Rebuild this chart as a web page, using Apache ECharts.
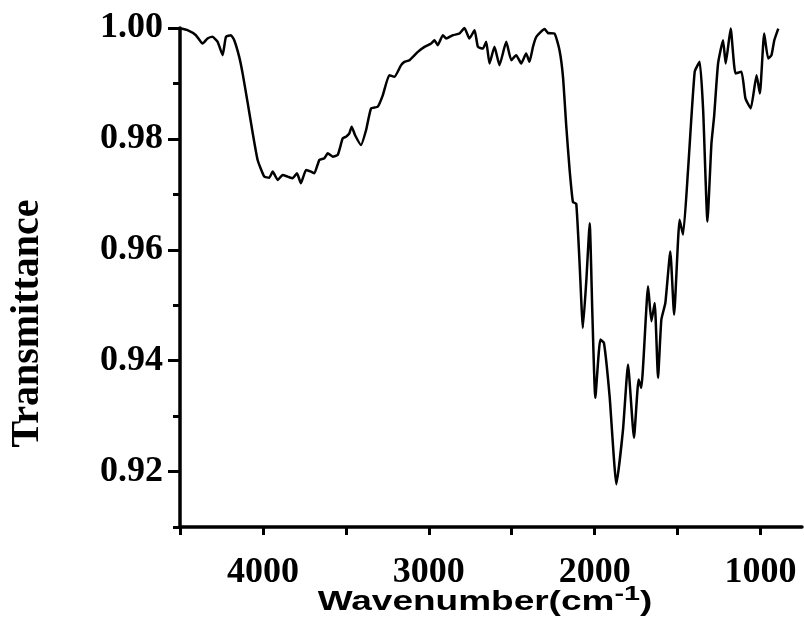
<!DOCTYPE html>
<html>
<head>
<meta charset="utf-8">
<script src="https://cdn.jsdelivr.net/npm/echarts@6/dist/echarts.min.js"></script>
<style>
  html, body { margin: 0; padding: 0; background: #fff; }
  #chart { width: 804px; height: 626px; }
</style>
</head>
<body>
<div id="chart"></div>
<script>
// FTIR spectrum: wavenumber (cm^-1) and transmittance
const wavenumber = [
  4495, 4455, 4404, 4364, 4334, 4304, 4273, 4243, 4223, 4193, 4173, 4143, 4123, 4092, 4062, 4032,
  3992, 3962, 3941, 3911, 3881, 3851, 3821, 3795, 3771, 3740, 3710, 3690, 3660, 3630, 3609, 3579,
  3549, 3519, 3499, 3479, 3465, 3445, 3409, 3378, 3348, 3308, 3277, 3238, 3207, 3167, 3147, 3117,
  3066, 3026, 2986, 2966, 2946, 2915, 2895, 2855, 2815, 2785, 2755, 2724, 2704, 2674, 2654, 2634,
  2604, 2574, 2533, 2503, 2473, 2443, 2413, 2393, 2372, 2352, 2302, 2282, 2242, 2212, 2191, 2171,
  2151, 2131, 2111, 2091, 2071, 2050, 2030, 2014, 1996, 1966, 1944, 1910, 1869, 1829, 1799, 1763,
  1735, 1719, 1678, 1658, 1638, 1618, 1598, 1574, 1544, 1521, 1488, 1467, 1437, 1397, 1367, 1346,
  1320, 1296, 1280, 1256, 1226, 1210, 1180, 1151, 1115, 1091, 1059, 1024, 1004, 978, 954, 934,
  917, 893
];
const transmittance = [
  0.9999, 0.9996, 0.9987, 0.9972, 0.9981, 0.9984, 0.9975, 0.9951, 0.9984, 0.9987, 0.9978, 0.9948, 0.9919, 0.9865, 0.9811, 0.9762,
  0.9732, 0.9730, 0.9741, 0.9726, 0.9735, 0.9732, 0.9729, 0.9738, 0.9720, 0.9744, 0.9741, 0.9738, 0.9762, 0.9765, 0.9774, 0.9768,
  0.9771, 0.9801, 0.9804, 0.9810, 0.9822, 0.9807, 0.9789, 0.9816, 0.9855, 0.9858, 0.9879, 0.9915, 0.9912, 0.9933, 0.9939, 0.9942,
  0.9957, 0.9966, 0.9972, 0.9978, 0.9969, 0.9987, 0.9981, 0.9987, 0.9990, 1.0000, 0.9981, 0.9996, 0.9966, 0.9963, 0.9975, 0.9936,
  0.9966, 0.9933, 0.9975, 0.9942, 0.9951, 0.9936, 0.9954, 0.9939, 0.9966, 0.9984, 0.9998, 0.9991, 0.9990, 0.9960, 0.9912, 0.9822,
  0.9744, 0.9686, 0.9683, 0.9576, 0.9459, 0.9546, 0.9648, 0.9486, 0.9333, 0.9438, 0.9432, 0.9336, 0.9177, 0.9276, 0.9393, 0.9261,
  0.9366, 0.9351, 0.9534, 0.9471, 0.9504, 0.9369, 0.9474, 0.9504, 0.9597, 0.9483, 0.9654, 0.9627, 0.9744, 0.9921, 0.9939, 0.9852,
  0.9651, 0.9792, 0.9840, 0.9936, 0.9978, 0.9936, 0.9999, 0.9918, 0.9921, 0.9873, 0.9855, 0.9915, 0.9882, 0.9990, 0.9945, 0.9951,
  0.9978, 0.9999
];
// axis ticks and labels
const xTicks = [1000, 1500, 2000, 2500, 3000, 3500, 4000, 4500];
const xLabels = [1000, 2000, 3000, 4000];
const yMajor = [0.92, 0.94, 0.96, 0.98, 1.00];
const yMinor = [0.91, 0.93, 0.95, 0.97, 0.99];

const points = wavenumber.map((w, i) => [w, transmittance[i]]);

const chart = echarts.init(document.getElementById('chart'), null, { renderer: 'canvas' });
const serif = '"Liberation Serif", "Times New Roman", serif';
const sans = '"Liberation Sans", Arial, sans-serif';

const yBase = {
  type: 'value',
  min: 0.91,
  max: 1.00,
  position: 'left',
  splitLine: { show: false }
};

chart.setOption({
  backgroundColor: '#fff',
  animation: false,
  grid: { left: 180, right: 2, top: 28, bottom: 99, containLabel: false, outerBoundsMode: 'none' },
  xAxis: {
    type: 'value',
    inverse: true,
    min: 750,
    max: 4500,
    axisLine: { show: true, onZero: false, lineStyle: { color: '#000', width: 3.5 } },
    axisTick: { show: true, inside: false, length: 8, customValues: xTicks, lineStyle: { color: '#000', width: 3 } },
    axisLabel: {
      show: true, customValues: xLabels, margin: 28,
      fontFamily: serif, fontWeight: 'bold', fontSize: 36, color: '#000',
      formatter: v => String(v)
    },
    splitLine: { show: false }
  },
  yAxis: [
    Object.assign({}, yBase, {
      name: 'Transmittance',
      nameLocation: 'middle',
      nameRotate: 90,
      nameGap: 132,
      nameTextStyle: {
        fontFamily: serif, fontWeight: 'bold', fontSize: 40, color: '#000',
        padding: [0, 92, 0, 0]
      },
      axisLine: { show: true, onZero: false, lineStyle: { color: '#000', width: 3.5 } },
      axisTick: { show: true, inside: false, length: 12, customValues: yMajor, lineStyle: { color: '#000', width: 3 } },
      axisLabel: {
        show: true, customValues: yMajor, margin: 17,
        fontFamily: serif, fontWeight: 'bold', fontSize: 36, color: '#000',
        formatter: v => v.toFixed(2)
      }
    }),
    Object.assign({}, yBase, {
      axisLine: { show: false },
      axisTick: { show: true, inside: false, length: 7, customValues: yMinor, lineStyle: { color: '#000', width: 3 } },
      axisLabel: { show: false }
    })
  ],
  graphic: [{
    type: 'text',
    x: 485,
    y: 600,
    scaleX: 1.37,
    style: {
      text: '{a|Wavenumber(cm}{s|-1}{a|)}',
      align: 'center',
      verticalAlign: 'middle',
      rich: {
        a: { fontFamily: sans, fontWeight: 'bold', fontSize: 27, fill: '#000', lineHeight: 33, verticalAlign: 'bottom' },
        s: { fontFamily: sans, fontWeight: 'bold', fontSize: 21, fill: '#000', lineHeight: 33, verticalAlign: 'top' }
      }
    }
  }],
  series: [{
    type: 'line',
    xAxisIndex: 0,
    yAxisIndex: 0,
    data: points,
    showSymbol: false,
    smooth: 0.15,
    clip: false,
    lineStyle: { color: '#000', width: 2.5 }
  }]
});
</script>
</body>
</html>
